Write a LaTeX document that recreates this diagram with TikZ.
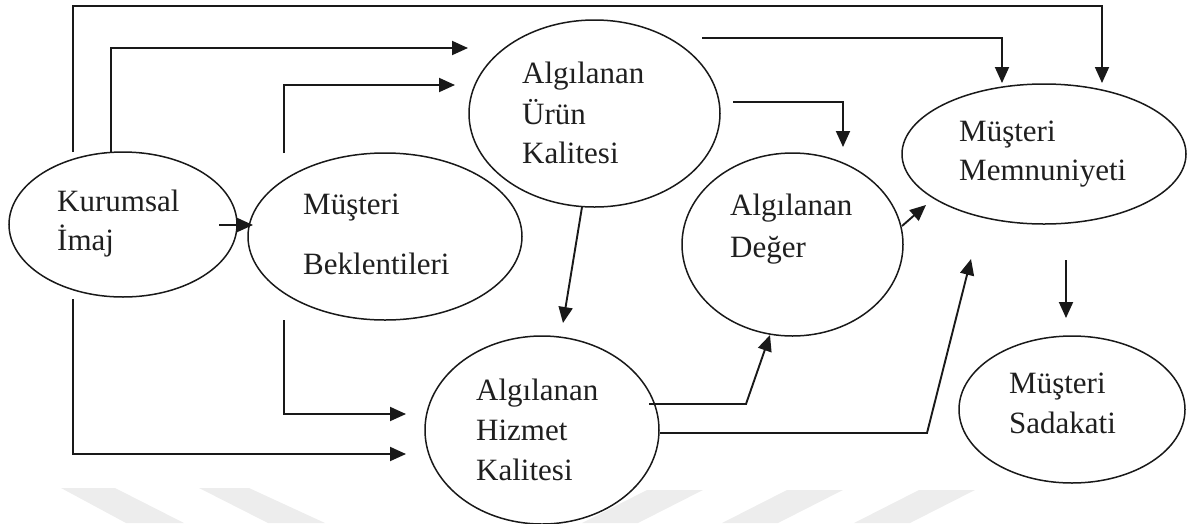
\documentclass[tikz,border=0pt]{standalone}
\usepackage{fontspec}
\setmainfont{Liberation Serif}
\usetikzlibrary{shapes.geometric,arrows.meta}
\begin{document}
\begin{tikzpicture}[x=1pt,y=-1pt,
  concept/.style={ellipse,draw=black!90,line width=1.5pt,inner sep=0pt},
  lbl/.style={anchor=base west,inner sep=0pt,font=\fontsize{31}{36}\selectfont,text=black!88},
  link/.style={draw=black!90,line width=1.9pt,-{Triangle[length=16pt,width=14pt]}},
  wm/.style={fill=black!7,draw=none}]
\useasboundingbox (0,0) rectangle (1189,523);

% faint background chevrons along the lower edge
\fill[wm] (61,488) -- (115,488) -- (184,523) -- (126,523) -- cycle;
\fill[wm] (199,488) -- (249,488) -- (325,523) -- (268,523) -- cycle;
\fill[wm] (647,490) -- (703,490) -- (638,523) -- (582,523) -- cycle;
\fill[wm] (787,490) -- (843,490) -- (778,523) -- (722,523) -- cycle;
\fill[wm] (919,490) -- (975,490) -- (910,523) -- (854,523) -- cycle;

% concepts
\node[concept,minimum width=228pt,minimum height=145pt] (kur)  at (123,224.5) {};
\node[concept,minimum width=274pt,minimum height=167pt] (bek)  at (385,236.5) {};
\node[concept,minimum width=251pt,minimum height=187pt] (urun) at (594.5,113.5) {};
\node[concept,minimum width=221pt,minimum height=183pt] (deg)  at (792.5,244.5) {};
\node[concept,minimum width=234pt,minimum height=188pt] (hiz)  at (542,430) {};
\node[concept,minimum width=284pt,minimum height=140pt] (mem)  at (1044,154) {};
\node[concept,minimum width=226pt,minimum height=147pt] (sad)  at (1072,409.5) {};

% labels
\node[lbl] (kurL1) at (57,211) {Kurumsal};
\node[lbl] (kurL2) at (57,250) {İmaj};
\node[lbl] (bekL1) at (303,214) {Müşteri};
\node[lbl] (bekL2) at (303,274) {Beklentileri};
\node[lbl] (urunL1) at (522,83) {Algılanan};
\node[lbl] (urunL2) at (522,124) {Ürün};
\node[lbl] (urunL3) at (522,163) {Kalitesi};
\node[lbl] (degL1) at (730,215) {Algılanan};
\node[lbl] (degL2) at (730,257) {Değer};
\node[lbl] (hizL1) at (476,400) {Algılanan};
\node[lbl] (hizL2) at (476,440) {Hizmet};
\node[lbl] (hizL3) at (476,480) {Kalitesi};
\node[lbl] (memL1) at (959,141) {Müşteri};
\node[lbl] (memL2) at (959,180) {Memnuniyeti};
\node[lbl] (sadL1) at (1009,393) {Müşteri};
\node[lbl] (sadL2) at (1009,433) {Sadakati};

% connector end points and bends
\coordinate (kmA) at (73,152);   \coordinate (kmB) at (73,6);
\coordinate (kmC) at (1102,6);   \coordinate (kmD) at (1102,83);
\coordinate (kuA) at (111,152);  \coordinate (kuB) at (111,48);  \coordinate (kuC) at (468,48);
\coordinate (buA) at (284,153);  \coordinate (buB) at (284,85);  \coordinate (buC) at (455,85);
\coordinate (umA) at (702,38);   \coordinate (umB) at (1002,38); \coordinate (umC) at (1002,83);
\coordinate (udA) at (733,102);  \coordinate (udB) at (843,102); \coordinate (udC) at (843,147);
\coordinate (uhA) at (582,207);  \coordinate (uhB) at (563,323);
\coordinate (kbA) at (219,225);  \coordinate (kbB) at (253,225);
\coordinate (bhA) at (284,320);  \coordinate (bhB) at (284,414); \coordinate (bhC) at (406,414);
\coordinate (khA) at (73,299);   \coordinate (khB) at (73,454);  \coordinate (khC) at (406,454);
\coordinate (hdA) at (649,404);  \coordinate (hdB) at (746,404); \coordinate (hdC) at (770,335);
\coordinate (hmA) at (660,433);  \coordinate (hmB) at (927,433); \coordinate (hmC) at (971,259);
\coordinate (dmA) at (902,226);  \coordinate (dmB) at (926,205);
\coordinate (msA) at (1066,260); \coordinate (msB) at (1066,318);

% connectors
\draw[link] (kmA) -- (kmB) -- (kmC) -- (kmD);
\draw[link] (kuA) -- (kuB) -- (kuC);
\draw[link] (buA) -- (buB) -- (buC);
\draw[link] (umA) -- (umB) -- (umC);
\draw[link] (udA) -- (udB) -- (udC);
\draw[link] (uhA) -- (uhB);
\draw[link] (kbA) -- (kbB);
\draw[link] (bhA) -- (bhB) -- (bhC);
\draw[link] (khA) -- (khB) -- (khC);
\draw[link] (hdA) -- (hdB) -- (hdC);
\draw[link] (hmA) -- (hmB) -- (hmC);
\draw[link] (dmA) -- (dmB);
\draw[link] (msA) -- (msB);
\end{tikzpicture}
\end{document}
